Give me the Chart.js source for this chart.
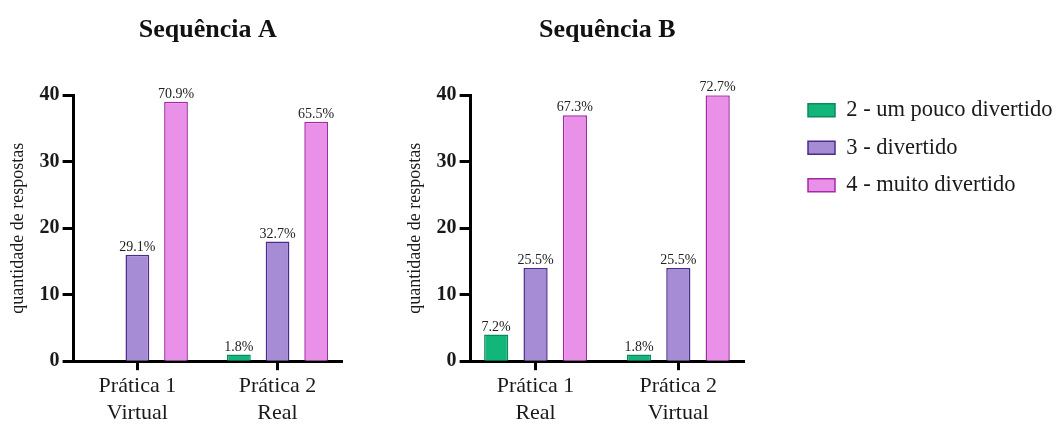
<!DOCTYPE html>
<html>
<head>
<meta charset="utf-8">
<script src="https://cdn.jsdelivr.net/npm/chart.js@4/dist/chart.umd.min.js"></script>
<style>
  html, body { margin: 0; padding: 0; background: #fff; overflow: hidden; }
  #wrap { position: relative; width: 1064px; height: 429px; }
  canvas { position: absolute; top: 0; }
</style>
</head>
<body>
<div id="wrap">
  <canvas id="cA" width="380" height="429" style="left:0px"></canvas>
  <canvas id="cB" width="380" height="429" style="left:397px"></canvas>
  <canvas id="cL" width="284" height="429" style="left:780px"></canvas>
</div>
<script>
// ---- data ----
const seriesNames = ['2 - um pouco divertido', '3 - divertido', '4 - muito divertido'];
const titleA = 'Sequência A';
const titleB = 'Sequência B';
const yTitle = 'quantidade de respostas';
const catsA = [['Prática 1', 'Virtual'], ['Prática 2', 'Real']];
const catsB = [['Prática 1', 'Real'], ['Prática 2', 'Virtual']];
const seqA_2 = [0, 1];
const seqA_3 = [16, 18];
const seqA_4 = [39, 36];
const seqB_2 = [4, 1];
const seqB_3 = [14, 14];
const seqB_4 = [37, 40];
const pctA_2 = [null, '1.8%'];
const pctA_3 = ['29.1%', '32.7%'];
const pctA_4 = ['70.9%', '65.5%'];
const pctB_2 = ['7.2%', '1.8%'];
const pctB_3 = ['25.5%', '25.5%'];
const pctB_4 = ['67.3%', '72.7%'];
const yTicks = [0, 10, 20, 30, 40];

// ---- styles ----
const FONT = "'Liberation Serif', 'Times New Roman', serif";
const fills = ['#12B57A', '#A68BD5', '#E991E9'];
const borders = ['#0B8A5B', '#4B2D8C', '#A42AA4'];
const TXT = '#1a1a1a';

const pctPlugin = {
  id: 'pctLabels',
  afterDatasetsDraw(chart) {
    const ctx = chart.ctx;
    ctx.save();
    ctx.font = '14px ' + FONT;
    ctx.fillStyle = '#222';
    ctx.textAlign = 'center';
    ctx.textBaseline = 'alphabetic';
    chart.data.datasets.forEach((ds, di) => {
      const meta = chart.getDatasetMeta(di);
      meta.data.forEach((bar, i) => {
        const t = ds.pct[i];
        if (t == null) return;
        ctx.fillText(t, bar.x, bar.y - 4);
      });
    });
    ctx.restore();
  }
};

function makeDatasets(vals, pcts) {
  return vals.map((v, k) => ({
    label: seriesNames[k],
    data: v.map((y, i) => ({ x: i, y: y })),
    pct: pcts[k],
    backgroundColor: fills[k],
    borderColor: borders[k],
    borderWidth: 1.5,
    borderSkipped: 'start',
    categoryPercentage: 0.827,
    barPercentage: 0.615
  }));
}

function makeChart(id, title, cats, vals, pcts, padRight) {
  return new Chart(document.getElementById(id), {
    type: 'bar',
    data: { datasets: makeDatasets(vals, pcts) },
    plugins: [pctPlugin],
    options: {
      responsive: false,
      animation: false,
      devicePixelRatio: 1,
      layout: { padding: { left: 4, right: padRight, top: 0, bottom: 0 } },
      plugins: {
        legend: { display: false },
        tooltip: { enabled: false },
        title: {
          display: true, text: title, fullSize: false,
          color: '#111',
          font: { family: FONT, size: 26, weight: 'bold' },
          padding: { top: 15, bottom: 49 }
        }
      },
      scales: {
        x: {
          type: 'linear',
          min: -0.455, max: 1.46,
          offset: false,
          afterBuildTicks: s => { s.ticks = cats.map((_, i) => ({ value: i })); },
          grid: { display: true, offset: false, drawOnChartArea: false, drawTicks: true, tickLength: 9, tickWidth: 3, tickColor: '#000' },
          border: { display: true, color: '#000', width: 3 },
          ticks: {
            autoSkip: false, maxRotation: 0, padding: 3,
            color: TXT,
            font: { family: FONT, size: 22 },
            callback: (v) => cats[v]
          }
        },
        y: {
          min: 0, max: 40,
          afterBuildTicks: s => { s.ticks = yTicks.map(v => ({ value: v })); },
          grid: { display: true, drawOnChartArea: false, drawTicks: true, tickLength: 11, tickWidth: 3, tickColor: '#000' },
          border: { display: true, color: '#000', width: 3 },
          ticks: { color: TXT, padding: 3, font: { family: FONT, size: 20, weight: 'bold' } },
          title: {
            display: true, text: yTitle, color: TXT,
            font: { family: FONT, size: 18 },
            padding: { top: 3, bottom: 8 }
          }
        }
      }
    }
  });
}

makeChart('cA', titleA, catsA, [seqA_2, seqA_3, seqA_4], [pctA_2, pctA_3, pctA_4], 38);
makeChart('cB', titleB, catsB, [seqB_2, seqB_3, seqB_4], [pctB_2, pctB_3, pctB_4], 33);

// legend-only chart (no bars drawn: empty data)
new Chart(document.getElementById('cL'), {
  type: 'bar',
  data: {
    datasets: seriesNames.map((n, k) => ({
      label: n, data: [], backgroundColor: fills[k], borderColor: borders[k], borderWidth: 1.5
    }))
  },
  options: {
    responsive: false,
    animation: false,
    devicePixelRatio: 1,
    layout: { padding: { left: 13, top: 84 } },
    scales: { x: { display: false }, y: { display: false } },
    plugins: {
      tooltip: { enabled: false },
      legend: {
        position: 'left', align: 'start', maxWidth: 280,
        labels: {
          boxWidth: 27, boxHeight: 13, padding: 15,
          color: TXT,
          font: { family: FONT, size: 22.5 }
        }
      }
    }
  }
});
</script>
</body>
</html>
